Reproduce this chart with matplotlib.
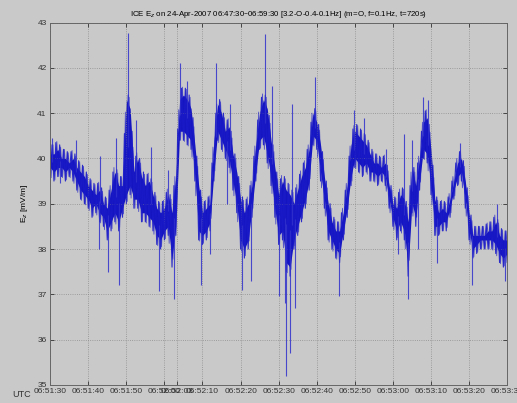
import numpy as np
import matplotlib
matplotlib.use('Agg')
import matplotlib.pyplot as plt

plt.rcParams['font.family'] = ['Liberation Sans', 'DejaVu Sans']

# seconds after 06:51:30
sec = np.arange(0, 121)
# dense core of the signal, lower / upper edge per second [mV/m]
core_lo = [39.6, 39.5, 39.6, 39.6, 39.5, 39.6, 39.5, 39.3, 39.1, 39.0,
           38.9, 38.7, 38.8, 38.6, 38.5, 38.2, 38.4, 38.6, 38.4, 38.7,
           39.0, 39.2, 38.9, 38.9, 38.6, 38.6, 38.5, 38.4, 38.1, 38.0,
           38.2, 38.3, 37.6, 38.3, 40.4, 40.4, 40.3, 40.2, 39.5, 38.2,
           38.1, 38.2, 38.4, 39.5, 40.4, 40.2, 40.0, 39.8, 39.3, 38.8,
           38.0, 37.8, 38.0, 38.7, 39.5, 40.2, 40.3, 39.9, 39.4, 38.7,
           38.1, 38.2, 37.5, 37.4, 38.0, 38.3, 38.6, 38.9, 39.3, 40.3,
           40.2, 39.5, 38.9, 38.2, 38.0, 37.8, 37.7, 38.2, 38.7, 39.4,
           39.8, 39.7, 39.6, 39.7, 39.5, 39.5, 39.4, 39.5, 39.4, 38.9,
           38.5, 38.2, 38.4, 38.2, 37.4, 38.8, 38.5, 39.3, 40.0, 39.9,
           39.2, 38.3, 38.3, 38.4, 38.4, 38.7, 39.1, 39.4, 39.5, 38.9,
           38.2, 37.8, 37.9, 38.0, 38.0, 38.0, 38.0, 37.9, 37.7, 37.6,
           37.7]
core_hi = [40.3, 40.3, 40.4, 40.2, 40.2, 40.1, 40.2, 40.0, 39.9, 39.8,
           39.6, 39.5, 39.4, 39.5, 39.2, 39.1, 39.5, 39.9, 39.6, 39.6,
           41.5, 41.3, 39.9, 40.2, 39.8, 39.6, 39.7, 39.4, 39.1, 39.0,
           39.1, 39.4, 39.0, 39.8, 41.5, 41.6, 41.5, 41.3, 40.5, 39.6,
           39.0, 39.1, 39.2, 40.6, 41.4, 41.2, 40.8, 40.9, 40.3, 39.9,
           39.3, 39.0, 39.2, 39.6, 40.5, 41.2, 41.5, 41.3, 40.6, 40.0,
           39.4, 39.7, 39.5, 39.4, 39.2, 39.5, 39.8, 40.0, 40.4, 41.2,
           41.0, 40.5, 39.8, 39.2, 38.8, 38.6, 38.6, 39.0, 39.6, 40.5,
           40.8, 40.7, 40.6, 40.5, 40.3, 40.1, 40.1, 40.0, 40.1, 39.6,
           39.2, 39.1, 39.4, 39.3, 38.8, 40.0, 39.6, 40.2, 41.0, 41.1,
           40.4, 39.3, 39.0, 39.1, 39.0, 39.3, 39.7, 40.1, 40.2, 39.7,
           39.0, 38.5, 38.5, 38.5, 38.5, 38.6, 38.6, 38.8, 38.5, 38.4,
           38.4]
# isolated spikes outside the core
spike_t = [0.5, 2.5, 6.7, 12.7, 13.2, 15.3, 17.4, 18.1, 20.4, 22.6, 26.5,
           28.6, 31.0, 32.5, 34.1, 36.0, 39.6, 42.0, 43.5, 46.5, 47.3, 50.5,
           52.7, 56.4, 58.2, 60.0, 61.6, 61.9, 62.9, 63.6, 64.2, 69.5, 75.9,
           79.7, 82.3, 88.3, 91.3, 93.0, 93.9, 94.9, 96.7, 98.0, 99.3, 101.7,
           107.6, 110.7, 117.3, 119.4]
spike_v = [40.45, 39.45, 40.4, 38.0, 40.05, 37.5, 40.45, 37.2, 42.77, 40.85,
           40.26, 37.08, 39.75, 36.9, 42.1, 41.7, 37.2, 37.9, 42.1, 39.0,
           41.2, 37.1, 37.3, 42.75, 41.6, 36.97, 36.8, 35.2, 35.7, 41.2,
           36.7, 41.8, 36.97, 41.07, 40.9, 40.2, 37.9, 40.55, 36.9, 40.4,
           38.0, 41.36, 41.3, 37.7, 40.34, 37.2, 39.0, 37.3]

tick_sec = [0, 10, 20, 30, 33.2, 40, 50, 60, 70, 80, 90, 100, 110, 120]
tick_lab = ['06:51:30', '06:51:40', '06:51:50', '06:52:00', '06:52:03',
            '06:52:10', '06:52:20', '06:52:30', '06:52:40', '06:52:50',
            '06:53:00', '06:53:10', '06:53:20', '06:53:30']

bg = '#c9c9c9'
fig = plt.figure(figsize=(5.17, 4.03), dpi=100, facecolor=bg)
ax = fig.add_axes([0.097, 0.045, 0.884, 0.899], facecolor=bg)

lo = np.array(core_lo)
hi = np.array(core_hi)
# darker inner core, then zigzag strokes between the edges for the noise
ax.fill_between(sec, lo + 0.2, hi - 0.2, color='#1414c0', lw=0)
for off, w, a in [(0.0, 0.8, 0.9), (0.25, 0.6, 0.7)]:
    zx = np.ravel(np.column_stack([sec + off, sec + off + 0.5]))
    zy = np.ravel(np.column_stack([np.interp(sec + off, sec, lo),
                                   np.interp(sec + off + 0.5, sec, hi)]))
    ax.plot(zx, zy, color='#1a1ac8', lw=w, alpha=a)

mid = np.interp(spike_t, sec, (lo + hi) / 2)
ax.vlines(spike_t, mid, spike_v, color='#3030cc', lw=0.8, alpha=0.85)

ax.set_xlim(0, 120)
ax.set_ylim(35, 43)
ax.set_xticks(tick_sec)
ax.set_xticklabels(tick_lab)
ax.set_yticks(range(35, 44))
ax.grid(True, ls=':', color='#8c8c8c', lw=0.6)
ax.tick_params(direction='in', length=3, width=0.6, labelsize=6,
               top=True, right=True, colors='#333333', pad=2.5)
for s in ax.spines.values():
    s.set_color('#666666')
    s.set_linewidth(0.7)

ax.set_ylabel('E$_z$ [mV/m]', fontsize=6, labelpad=5)
ax.set_title('ICE E$_z$ on 24-Apr-2007 06:47:30\u201306:59:30 [3.2-O-0.4-0.1Hz] '
             '(m=O, f=0.1Hz, t=720s)', fontsize=5.7, pad=5)
fig.text(0.023, 0.015, 'UTC', fontsize=6.5, color='#333333')

fig.savefig('out.png', dpi=100, facecolor=bg)
